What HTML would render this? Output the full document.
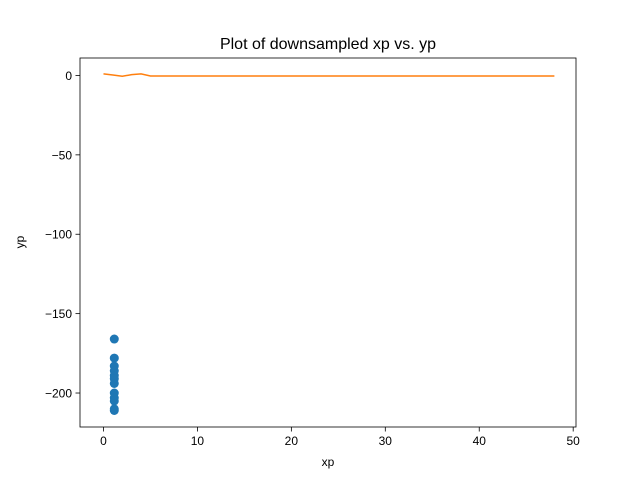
<!DOCTYPE html>
<html><head><meta charset="utf-8"><style>body{margin:0;background:#fff}svg{display:block;font-family:"Liberation Sans","DejaVu Sans",sans-serif}</style></head>
<body>
<svg id="c" width="640" height="480"></svg>
<script>
const xTicks=[0,10,20,30,40,50];
const yTicks=[0,-50,-100,-150,-200];
const scatterX=[1.15,1.15,1.15,1.15,1.15,1.15,1.15,1.15,1.15,1.15,1.15,1.15];
const scatterY=[-166,-178,-183,-186,-189,-191,-194,-200,-203,-205,-210,-211];
const lineX=[0,1,2,3,4,5,6,7,8,9,10,15,20,25,30,35,40,45,48];
const lineY=[1,0.3,-0.5,0.5,1,-0.3,-0.3,-0.3,-0.3,-0.3,-0.3,-0.3,-0.3,-0.3,-0.3,-0.3,-0.3,-0.3,-0.3];
const L=80,R=576,T=58,B=427,xmin=-2.5,xmax=50.3,ymin=-221.4,ymax=11.0;
const sx=v=>L+(v-xmin)/(xmax-xmin)*(R-L);
const sy=v=>B-(v-ymin)/(ymax-ymin)*(B-T);
const svg=document.getElementById('c');const NS='http://www.w3.org/2000/svg';
function mk(t,a,p){const e=document.createElementNS(NS,t);for(const k in a)e.setAttribute(k,a[k]);(p||svg).appendChild(e);return e;}
let e;
e=mk('text',{x:328,y:49,'text-anchor':'middle','font-size':16,fill:'#000'});e.textContent='Plot of downsampled xp vs. yp';


xTicks.forEach(v=>{const x=sx(v);
e=mk('line',{x1:x,x2:x,y1:B,y2:B+4.5,stroke:'#000','stroke-width':0.8});


e=mk('text',{x:x,y:B+18,'text-anchor':'middle','font-size':12});e.textContent=v;

});
yTicks.forEach(v=>{const y=sy(v);
e=mk('line',{x1:L-4.5,x2:L,y1:y,y2:y,stroke:'#000','stroke-width':0.8});


e=mk('text',{x:L-8,y:y+4.5,'text-anchor':'end','font-size':12});e.textContent=v<0?'\u2212'+(-v):v;

});
e=mk('text',{x:328,y:466,'text-anchor':'middle','font-size':12});e.textContent='xp';


e=mk('text',{x:0,y:0,'text-anchor':'middle','font-size':12,transform:'translate(24,242) rotate(-90)'});e.textContent='yp';


scatterX.forEach((v,i)=>{e=mk('circle',{cx:sx(v),cy:sy(scatterY[i]),r:4.5,fill:'#1f77b4'});

});
e=mk('polyline',{points:lineX.map((v,i)=>sx(v)+','+sy(lineY[i])).join(' '),fill:'none',stroke:'#ff7f0e','stroke-width':1.5});


e=mk('rect',{x:L,y:T,width:R-L,height:B-T,fill:'none',stroke:'#000','stroke-width':0.8});


</script>
</body></html>
